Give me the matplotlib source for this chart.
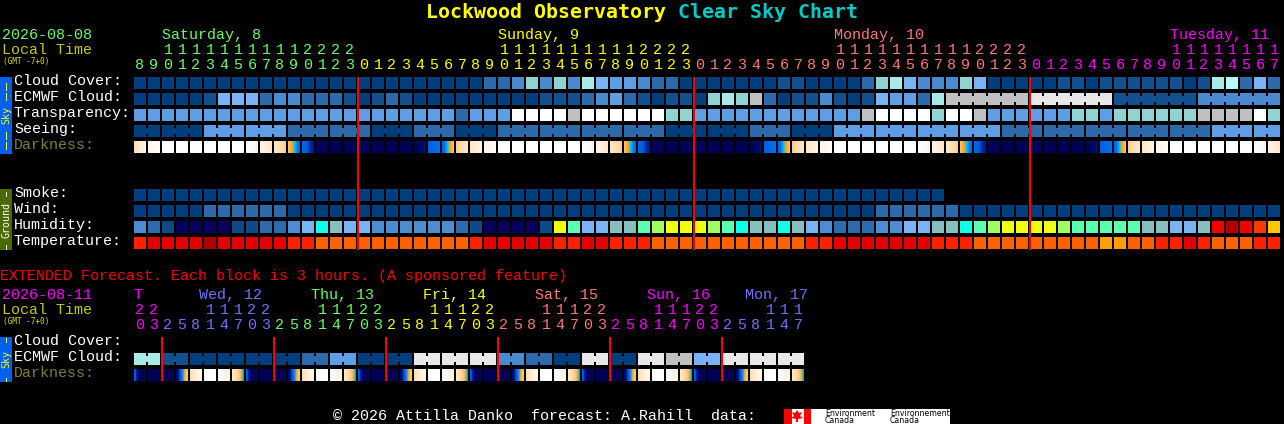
import numpy as np
import matplotlib
matplotlib.use('Agg')
import matplotlib.pyplot as plt
from matplotlib.colors import LinearSegmentedColormap

# colour levels, the rows below index into these
SKY = ['#003E7E', '#13508F', '#2C6AAB', '#4A8BCF', '#5E9EE5', '#78B4F5',
       '#90D4D2', '#A8EAEA', '#C0C0C0', '#E8E8E8', '#FFFFFF', '#B8FAFA']
HUMID = ['#08005E', '#0F4A88', '#2C6CAE', '#4C8CD0', '#78B4F5', '#85BFBF', '#10FFE8',
         '#5AFFB0', '#A0FF60', '#EEFF10', '#FFC800', '#FF3800', '#F00000', '#B80000']
TEMP = ['#B00000', '#E40000', '#FF2000', '#FF6000', '#FFA000']

CLOUD = [0] * 25 + [2, 2, 3, 6, 3, 6, 3, 7, 5, 4, 4, 3, 2, 2, 0, 0, 0, 0, 0, 0, 0, 1, 1, 0, 0, 0, 0,
                    2, 6, 7, 5, 3, 3, 3, 6, 5, 0, 0, 0, 0, 0, 1, 1, 0, 1, 1, 1, 1, 1, 1, 0, 1, 7, 11, 2, 5, 2]
ECMWF = [0, 0, 0, 0, 0, 1, 5, 5, 5, 2, 3, 3, 2, 2, 2, 1, 0, 1, 2, 1, 0,
         0, 0, 0, 0, 0, 0, 0, 0, 1, 1, 1,
         2, 3, 4, 2, 1, 0, 1, 1, 0, 6, 7, 6, 8, 2, 0, 1, 1, 3, 1, 0, 1, 5, 4, 4, 2, 7,
         8, 9, 1, 3]
ECMWF_SPAN = [1] * 58 + [6, 6, 6, 6]
TRANSP = [4] * 23 + [2, 4, 4, 4, 10, 10, 10, 10, 8, 10, 10, 10, 10, 10, 10, 6, 6] + [4] * 12 + \
         [8, 10, 10, 10, 10, 6, 10, 10, 8, 4, 4, 4, 4, 4, 4, 6, 6, 4, 6, 6, 6, 6, 6, 6, 8, 8, 8, 8, 10, 6]
SEEING = [0, 0, 4, 4, 2, 2, 0, 2, 0, 2, 2, 2, 2, 0, 0, 2, 0, 4, 4, 4, 4, 2, 2, 2, 2, 2, 4, 4]
SEEING_SPAN = [2] + [3] * 26 + [2]
SMOKE = [0] * 58
WIND = [0] * 5 + [2] * 6 + [0] * 42 + [2] * 6 + [0] * 23
HUMIDITY = [3, 2, 1, 0, 0, 0, 0, 1, 1, 2, 2, 3, 4, 6, 5, 4, 4, 3, 3, 3, 3,
            3, 3, 2, 1, 0, 0, 0, 0, 1, 9, 7, 4, 4, 5, 5, 7, 8, 9, 9, 9, 8, 7, 6, 5, 5, 6, 5, 4, 3, 2, 2,
            2, 3, 3, 4, 4, 5, 5, 6, 7, 8, 9, 9, 9, 9, 8, 7, 7, 7, 7, 7, 5, 5, 4, 4, 5, 12, 13, 12, 11, 10]
TEMPERATURE = [2, 1, 1, 1, 1, 0, 1, 1, 1, 1, 1, 2, 2, 3, 3, 3, 3, 3, 3, 3, 3,
               3, 3, 3, 2, 1, 1, 1, 1, 1, 2, 2, 1, 1, 2, 2, 2, 3, 3, 3, 3, 3, 3, 3, 3, 3, 3, 3, 2, 2, 1, 1,
               1, 1, 1, 1, 1, 2, 2, 2, 3, 3, 3, 3, 3, 3, 3, 3, 3, 4, 4, 3, 3, 2, 2, 1, 2, 3, 3, 3, 2, 2]
DARK_LEFT = [.4, .1, 0, 0, 0, 0, 0, 0, 0, .15, .3, .55, .75, 1, 1, 1, 1, 1, 1, 1, 1,
             .8, .76, .5, .3, .15, 0, 0, 0, 0, 0, 0, 0, .15, .3, .55, .75, 1, 1, 1, 1, 1, 1, 1, 1,
             .8, .76, .5, .3, .15, 0, 0, 0, 0, 0, 0, 0, .15, .3, .55, .75, 1, 1, 1, 1, 1, 1, 1, 1,
             .8, .76, .5, .3, .15, 0, 0, 0, 0, 0, 0, 0, .15]
DARK_RIGHT = [.1, 0, 0, 0, 0, 0, 0, 0, .15, .3, .5, .75, .88, 1, 1, 1, 1, 1, 1, 1, .9,
              .72, .55, .3, .15, 0, 0, 0, 0, 0, 0, 0, .15, .3, .5, .75, .88, 1, 1, 1, 1, 1, 1, 1, .9,
              .72, .55, .3, .15, 0, 0, 0, 0, 0, 0, 0, .15, .3, .5, .75, .88, 1, 1, 1, 1, 1, 1, 1, .9,
              .72, .55, .3, .15, 0, 0, 0, 0, 0, 0, 0, .15, .3]

EXT_ECMWF = [7, 1, 0, 0, 0, 0, 2, 4, 0, 0, 9, 9, 9, 3, 2, 0, 9, 0, 9, 8, 5, 9, 9, 9]
EXT_DARK_LEFT = [.78, 1, 1, .95, .4, 0, 0, .3] * 6
EXT_DARK_RIGHT = [1.2, 1, 1, .5, .05, 0, .2, .68] * 6

HOURS = list(range(8, 24)) + list(range(24)) * 2 + list(range(18))
EXT_HOURS = [20, 23] + [2, 5, 8, 11, 14, 17, 20, 23] * 5 + [2, 5, 8, 11, 14, 17]
DAY_COLS = [16, 40, 64]
EXT_DAY_COLS = [2, 10, 18, 26, 34, 42]

GREEN, YELLOW, SALMON, MAGENTA, BLUE = '#66FF66', '#FFFF00', '#FF7878', '#FF00FF', '#7070FF'
FONT = 'Liberation Mono'
X0, STEP, SIZE = 134, 14, 12

fig = plt.figure(figsize=(12.84, 4.24), dpi=100, facecolor='black')
ax = fig.add_axes([0, 0, 1, 1])
ax.set_facecolor('black')
ax.axis('off')


def put(x, y, s, color='white', size=10.8, **kw):
    kw.setdefault('family', FONT)
    ax.text(x, y, s, color=color, fontsize=size, va='baseline', **kw)


def blocks(y, values, colors):
    xs = [X0 + STEP * i for i in range(len(values))]
    ax.bar(xs, [SIZE] * len(values), width=SIZE, bottom=y, align='edge',
           color=[colors[v] for v in values], antialiased=False, linewidth=0)


def spans(y, values, widths, colors):
    # runs of blocks that share one forecast value get a bridge between them
    col = 0
    for v, n in zip(values, widths):
        xs = [X0 + STEP * (col + k) for k in range(n)]
        ax.bar(xs, [SIZE] * n, width=SIZE, bottom=y, align='edge', color=colors[v],
               antialiased=False, linewidth=0)
        if n > 1:
            ax.bar([x + SIZE for x in xs[:-1]], [6] * (n - 1), width=2, bottom=y + 3, align='edge',
                   color=colors[v], antialiased=False, linewidth=0)
        col += n


dark_cmap = LinearSegmentedColormap.from_list('dark', [
    (0, '#FFFFFF'), (.25, '#FFEBD2'), (.45, '#FFD8A8'), (.55, '#FFC060'), (.62, '#FFA020'),
    (.66, '#00C8F0'), (.72, '#0070F0'), (.8, '#0060E0'), (.86, '#0020A0'), (.93, '#00086A'),
    (1, '#000058')], N=256)


def darkness(y, left, right):
    for i, (a, b) in enumerate(zip(left, right)):
        x = X0 + STEP * i
        ax.imshow(np.linspace(a, b, SIZE).reshape(1, -1), extent=(x, x + SIZE, y + SIZE, y),
                  cmap=dark_cmap, vmin=0, vmax=1, aspect='auto', interpolation='nearest')


def day_color(i, colors, day_cols):
    return colors[sum(i >= c for c in day_cols)]


def hour_rows(hours, colors, day_cols, y_tens, y_ones):
    for i, h in enumerate(hours):
        cx = X0 + STEP * i + SIZE / 2
        c = day_color(i, colors, day_cols)
        if h >= 10:
            put(cx, y_tens, str(h // 10), c, ha='center')
        put(cx, y_ones, str(h % 10), c, ha='center')


def red_lines(cols, y0, y1):
    ax.bar([X0 + STEP * c - 1 for c in cols], [y1 - y0] * len(cols), width=2, bottom=y0,
           align='edge', color='#FF0000', antialiased=False, linewidth=0, zorder=5)


def tab(y0, y1, color, label, text_color, dashes):
    ax.bar([0], [y1 - y0], width=12, bottom=y0, align='edge', color=color,
           antialiased=False, linewidth=0)
    ax.text(6, (y0 + y1) / 2, label, color=text_color, rotation=90, fontsize=7.2, family='DejaVu Sans Mono',
            ha='center', va='center')
    ax.vlines([5.5] * len(dashes), [d[0] for d in dashes], [d[1] for d in dashes],
              color=text_color, linewidth=0.72, antialiased=False)


# title
put(426, 18, 'Lockwood Observatory', '#FFFF00', 14.35, fontweight='bold', family='DejaVu Sans Mono')
put(678, 18, 'Clear Sky Chart', '#00CCCC', 14.35, fontweight='bold', family='DejaVu Sans Mono')

# hourly header
put(2, 39, '2026-08-08', GREEN)
put(2, 54, 'Local Time', '#C8C800')
put(3, 64, '(GMT -7+0)', '#E0E000', 5.6, family='DejaVu Sans Mono')
for x, s, c in zip([162, 498, 834, 1170], ['Saturday, 8', 'Sunday, 9', 'Monday, 10', 'Tuesday, 11'],
                   [GREEN, YELLOW, SALMON, MAGENTA]):
    put(x, 39, s, c)
hour_rows(HOURS, [GREEN, YELLOW, SALMON, MAGENTA], DAY_COLS, 54, 69)

# hourly rows
for y, s, c in [(85, 'Cloud Cover:', 'white'), (101, 'ECMWF Cloud:', 'white'), (117, 'Transparency:', 'white'),
                (133, 'Seeing:', 'white'), (149, 'Darkness:', '#808028'), (197, 'Smoke:', 'white'),
                (213, 'Wind:', 'white'), (229, 'Humidity:', 'white'), (245, 'Temperature:', 'white')]:
    put(14, y, s, c)
blocks(77, CLOUD, SKY)
spans(93, ECMWF, ECMWF_SPAN, SKY)
blocks(109, TRANSP, SKY)
spans(125, SEEING, SEEING_SPAN, SKY)
darkness(141, DARK_LEFT, DARK_RIGHT)
blocks(189, SMOKE, SKY)
blocks(205, WIND, SKY)
blocks(221, HUMIDITY, HUMID)
blocks(237, TEMPERATURE, TEMP)
red_lines(DAY_COLS, 77, 250)
tab(77, 154, '#0060F0', 'Sky', '#FFFF00', [(83, 90), (93, 100), (132, 139), (142, 149)])
tab(189, 250, '#4A6A00', 'Ground', 'white', [(192, 196), (245, 249)])

# extended forecast
put(0, 280, 'EXTENDED Forecast. Each block is 3 hours. (A sponsored feature)', '#FF0000')
put(2, 299, '2026-08-11', MAGENTA)
put(2, 314, 'Local Time', '#C8C800')
put(3, 324, '(GMT -7+0)', '#E0E000', 5.6, family='DejaVu Sans Mono')
for x, s, c in zip([134, 199, 311, 423, 535, 647, 745],
                   ['T', 'Wed, 12', 'Thu, 13', 'Fri, 14', 'Sat, 15', 'Sun, 16', 'Mon, 17'],
                   [MAGENTA, BLUE, GREEN, YELLOW, SALMON, MAGENTA, BLUE]):
    put(x, 299, s, c)
hour_rows(EXT_HOURS, [MAGENTA, BLUE, GREEN, YELLOW, SALMON, MAGENTA, BLUE], EXT_DAY_COLS, 314, 329)
for y, s, c in [(345, 'Cloud Cover:', 'white'), (361, 'ECMWF Cloud:', 'white'), (377, 'Darkness:', '#808028')]:
    put(14, y, s, c)
spans(353, EXT_ECMWF, [2] * 24, SKY)
darkness(369, EXT_DARK_LEFT, EXT_DARK_RIGHT)
red_lines(EXT_DAY_COLS, 337, 381)
tab(337, 382, '#0060F0', 'Sky', '#FFFF00', [(338, 342), (378, 381)])

# footer
put(333, 419.5, '\u00a9 2026 Attilla Danko  forecast: A.Rahill  data:')
ax.bar([784], [15], width=166, bottom=409, align='edge', color='white', antialiased=False, linewidth=0)
ax.bar([784, 804], [15, 15], width=[8, 7], bottom=409, align='edge', color='#FF0000',
       antialiased=False, linewidth=0)
ax.fill([797, 799, 802, 800, 803, 798, 798, 796, 796, 791, 794, 792, 795],
        [410, 413, 412, 416, 418, 419, 422, 422, 419, 418, 416, 412, 413], color='#FF0000', linewidth=0)
for x, s in [(825, 'Environment'), (890, 'Environnement')]:
    put(x, 415.5, s, 'black', 5.6, family='DejaVu Sans')
    put(x, 423, 'Canada', 'black', 5.6, family='DejaVu Sans')

ax.set_xlim(0, 1284)
ax.set_ylim(424, 0)
fig.savefig('out.png', dpi=100, facecolor='black')
